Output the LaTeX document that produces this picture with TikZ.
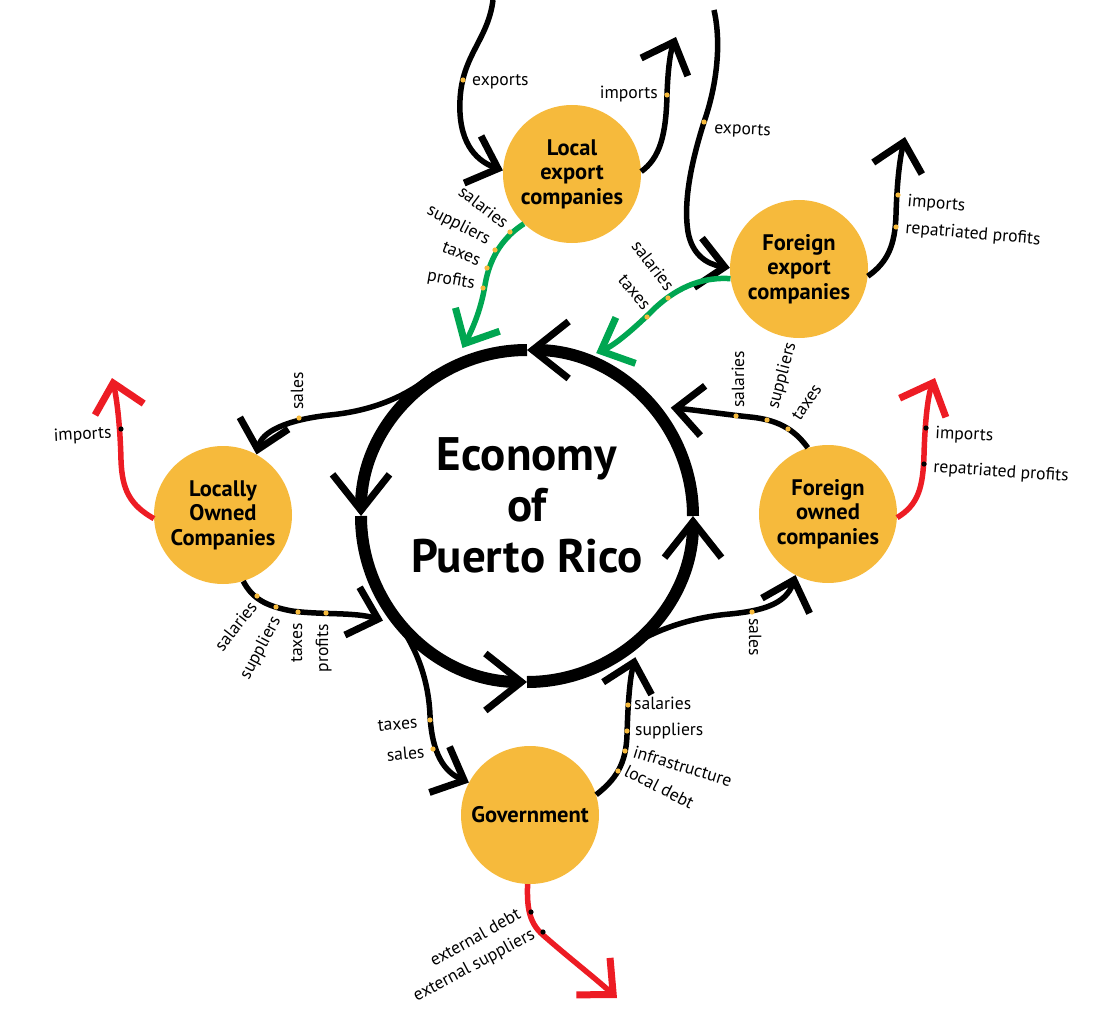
\documentclass[tikz,border=0pt]{standalone}
\usepackage{fontspec}
\setmainfont{PT Sans}
\usetikzlibrary{arrows.meta,calc}
\definecolor{compfill}{HTML}{F6BA3C}
\definecolor{flowgreen}{HTML}{00A651}
\definecolor{flowred}{HTML}{ED1C24}
\definecolor{dotyellow}{HTML}{F6BA3C}
\begin{document}
\begin{tikzpicture}[x=1pt,y=1pt,
  comp/.style={circle, fill=compfill, minimum size=138pt, inner sep=0pt, align=center, font=\bfseries\fontsize{22.5}{24.5}\selectfont},
  flow/.style={line width=5.5pt, -{Straight Barb[length=27pt,width=50pt,line width=7pt]}},
  ringarc/.style={line width=12pt, -{Straight Barb[length=36pt,width=57pt,line width=7pt]}},
  lab/.style={font=\fontsize{17.6}{19}\selectfont, inner sep=0pt},
  ydot/.style={fill=dotyellow},
  kdot/.style={fill=black},
]
\useasboundingbox (0,0) rectangle (1104,-1022);

% nodes
\node[circle, minimum size=344pt, inner sep=0pt] (econ) at (527,-516) {};
\node[font=\bfseries\fontsize{47}{51}\selectfont, align=center, inner sep=0pt] (econtxt) at (527,-505) {Economy\\of\\Puerto Rico};
\node[comp] (lec) at (572,-174) {Local\\export\\companies};
\node[comp] (fec) at (799,-269) {Foreign\\export\\companies};
\node[comp] (foc) at (828,-514) {Foreign\\owned\\companies};
\node[comp] (loc) at (223,-515) {Locally\\Owned\\Companies};
\node[comp] (gov) at (530,-815) {Government};

% ring
\draw[ringarc] ($(econ.center)+(0:166)$) arc[start angle=0, end angle=90, radius=166pt];
\draw[ringarc] ($(econ.center)+(90:166)$) arc[start angle=90, end angle=180, radius=166pt];
\draw[ringarc] ($(econ.center)+(180:166)$) arc[start angle=180, end angle=270, radius=166pt];
\draw[ringarc] ($(econ.center)+(270:166)$) arc[start angle=270, end angle=360, radius=166pt];

% free ends
\coordinate (src1) at (493,0);
\coordinate (dst2) at (676,-37);
\coordinate (src3) at (714,-10);
\coordinate (dst6) at (905,-137);
\coordinate (dst8) at (935,-378);
\coordinate (dst10) at (112,-378);
\coordinate (dst15) at (617,-998);

% connectors
\draw[flow] (src1) .. controls (488,-40) and (462,-55) .. (460,-100) .. controls (458,-140) and (474,-160) .. (lec.177);
\draw[flow] (lec.2) .. controls (660,-158) and (666,-135) .. (667,-95) .. controls (668,-65) and (671,-50) .. (dst2);
\draw[flow] (src3) .. controls (722,-45) and (716,-88) .. (704,-122) .. controls (692,-160) and (683,-200) .. (688,-232) .. controls (692,-254) and (706,-264) .. (fec.179);
\draw[flow, flowgreen] (lec.226) .. controls (505,-236) and (490,-255) .. (485,-285) .. controls (481,-310) and (472,-330) .. ($(econ.center)+(111:180)$);
\draw[flow, flowgreen] (fec.188) .. controls (705,-277) and (680,-285) .. (655,-308) .. controls (635,-328) and (615,-345) .. ($(econ.center)+(67:177)$);
\draw[flow] (fec.-6) .. controls (888,-262) and (895,-245) .. (896,-215) .. controls (897,-180) and (900,-158) .. (dst6);
\draw[flow] (foc.107) .. controls (797,-433) and (782,-420) .. (750,-417) .. controls (722,-414) and (695,-410) .. ($(econ.center)+(37:180)$);
\draw[flow, flowred] (foc.-3) .. controls (918,-505) and (923,-488) .. (924,-455) .. controls (925,-420) and (928,-395) .. (dst8);
\draw[flow] ($(econ.center)+(123:170)$) .. controls (412,-392) and (380,-410) .. (330,-415) .. controls (285,-420) and (262,-432) .. (loc.61);
\draw[flow, flowred] (loc.183) .. controls (130,-505) and (122,-490) .. (121,-460) .. controls (120,-420) and (116,-395) .. (dst10);
\draw[flow] (loc.-73) .. controls (252,-598) and (265,-606) .. (292,-611) .. controls (322,-615) and (355,-612) .. ($(econ.center)+(216:178)$);
\draw[flow] ($(econ.center)+(213:168)$) .. controls (410,-635) and (428,-670) .. (430,-715) .. controls (432,-755) and (445,-772) .. (gov.152);
\draw[flow] (gov.17) .. controls (615,-780) and (626,-765) .. (627,-735) .. controls (628,-700) and (630,-678) .. ($(econ.center)+(-52.5:178)$);
\draw[flow] ($(econ.center)+(-56:166)$) .. controls (642,-636) and (682,-618) .. (730,-614) .. controls (760,-611) and (786,-605) .. (foc.-118);
\draw[flow, flowred] (gov.-92) .. controls (527,-905) and (528,-922) .. (543,-935) .. controls (568,-957) and (595,-978) .. (dst15);

% dots
\foreach \p in {(463,-80),(667,-95),(704,-122),(510,-232),(495,-250),(487,-268),(483,-288),(668,-298),(647,-317),(898,-195),(896,-227),(788,-429),(767,-420),(736,-416),(299,-418),(257,-596),(276,-607),(298,-612),(326,-613),(430,-720),(433,-749),(628,-705),(627,-731),(625,-751),(618,-771),(752,-612)}
  \fill[ydot] \p circle (2.6pt);
\foreach \p in {(926,-428),(924,-464),(121,-429),(531,-912),(543,-932)}
  \fill[kdot] \p circle (2.6pt);

% labels
\node[lab, anchor=base west] (l1) at (472,-86) {exports};
\node[lab, anchor=base east] (l2) at (658,-99) {imports};
\node[lab, anchor=base west, rotate=-3] (l3) at (714,-133) {exports};
\node[lab, anchor=base east, rotate=-37] (l4a) at (503,-229) {salaries};
\node[lab, anchor=base east, rotate=-27] (l4b) at (487,-245) {suppliers};
\node[lab, anchor=base east, rotate=-22] (l4c) at (478,-266) {taxes};
\node[lab, anchor=base east, rotate=-10] (l4d) at (474,-289) {profits};
\node[lab, anchor=base east, rotate=-52] (l5a) at (666,-292) {salaries};
\node[lab, anchor=base east, rotate=-50] (l5b) at (643,-311) {taxes};
\node[lab, anchor=base west, rotate=-5] (l6a) at (907,-206) {imports};
\node[lab, anchor=base west, rotate=-5] (l6b) at (905,-233) {repatriated profits};
\node[lab, anchor=base west, rotate=90] (l7a) at (744,-408) {salaries};
\node[lab, anchor=base west, rotate=75] (l7b) at (778,-410) {suppliers};
\node[lab, anchor=base west, rotate=56] (l7c) at (800,-422) {taxes};
\node[lab, anchor=base west, rotate=-3] (l8a) at (935,-438) {imports};
\node[lab, anchor=base west, rotate=-4] (l8b) at (933,-472) {repatriated profits};
\node[lab, anchor=base west, rotate=90] (l9) at (303,-410) {sales};
\node[lab, anchor=base east, rotate=3] (l10) at (112,-438) {imports};
\node[lab, anchor=base east, rotate=52] (l11a) at (258,-607) {salaries};
\node[lab, anchor=base east, rotate=62] (l11b) at (281,-620) {suppliers};
\node[lab, anchor=base east, rotate=90] (l11c) at (302,-623) {taxes};
\node[lab, anchor=base east, rotate=90] (l11d) at (328,-624) {profits};
\node[lab, anchor=base east, rotate=5] (l12a) at (418,-728) {taxes};
\node[lab, anchor=base east, rotate=5] (l12b) at (425,-758) {sales};
\node[lab, anchor=base west] (l13a) at (634,-709) {salaries};
\node[lab, anchor=base west] (l13b) at (635,-735) {suppliers};
\node[lab, anchor=base west, rotate=-17] (l13c) at (632,-757) {infrastructure};
\node[lab, anchor=base west, rotate=-27] (l13d) at (623,-775) {local debt};
\node[lab, anchor=base west, rotate=-90] (l14) at (749,-618) {sales};
\node[lab, anchor=base east, rotate=29] (l15a) at (522,-918) {external debt};
\node[lab, anchor=base east, rotate=28] (l15b) at (536,-938) {external suppliers};
\end{tikzpicture}
\end{document}
